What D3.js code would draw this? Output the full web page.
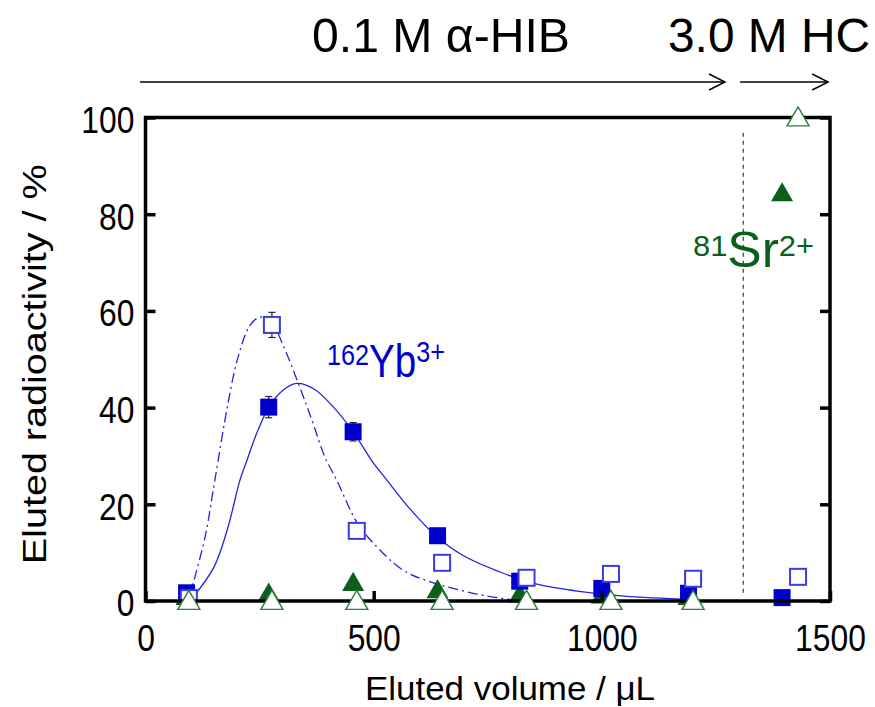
<!DOCTYPE html>
<html>
<head>
<meta charset="utf-8">
<script src="https://cdn.jsdelivr.net/npm/d3@7"></script>
<style>
  body { margin: 0; background: #fff; }
  svg { font-family: "Liberation Sans", Arial, sans-serif; }
</style>
</head>
<body>
<div id="chart"></div>
<script>
// eluted volume (uL) for each fraction
const volFilled = [90, 270, 455, 640, 820, 1000, 1190, 1395];
const volOpen = [95, 277, 463, 650, 835, 1020, 1200, 1430];

// 162Yb3+ eluted radioactivity (%)
const ybFilled = [1.7, 40.1, 35.0, 13.5, 4.1, 2.6, 1.6, 0.7];
const ybFilledErr = [0, 2.2, 1.9, 0, 0, 0, 0, 0];
const ybOpen = [0.6, 57.1, 14.5, 7.9, 4.8, 5.6, 4.6, 5.0];
const ybOpenErr = [0, 2.6, 0, 0, 0, 0, 0, 0];

// 81Sr2+ eluted radioactivity (%)
const srFilled = [0.5, 1.2, 3.4, 1.9, 1.0, 0.8, 0.5, 84.0];
const srOpen = [0, 0, 0, 0, 0, 0, 0, 100];

// fitted curves
const fitSolidVol = [100, 150, 180, 207, 222, 245, 270, 300, 332, 370, 410, 455, 496, 529, 580, 637, 700, 777, 849, 950, 1050, 1200];
const fitSolidVal = [0.3, 7, 15, 25, 29, 35, 40, 43.5, 45, 43.8, 40.3, 35, 29, 25, 19, 13.4, 9.2, 6, 3.7, 2, 1, 0.3];
const fitDashVol = [95, 130, 152, 181, 203, 229, 251, 277, 301, 339, 367, 393, 419, 463, 499, 564, 623, 718, 777, 800];
const fitDashVal = [0.5, 13, 25, 41, 50.5, 57, 58.7, 57.5, 53, 44, 36.8, 29.8, 25, 16.3, 12, 6.4, 4, 1.6, 0.6, 0.3];

const xTicks = [0, 500, 1000, 1500];
const yTicks = [0, 20, 40, 60, 80, 100];
const dividerVol = 1310;
const dividerRange = [1.7, 96.8];
const arrowSpans = [[-12, 1270], [1303, 1496]];

const width = 875, height = 707;
const margin = {top: 117.5, right: 45, bottom: 106, left: 145.5};

const svg = d3.select("#chart").append("svg")
    .attr("width", width)
    .attr("height", height);

const x = d3.scaleLinear().domain([0, 1500]).range([margin.left, width - margin.right]);
const y = d3.scaleLinear().domain([0, 100]).range([height - margin.bottom, margin.top]);

const blue = "#0000cc", blueLine = "#2424dc", blueOpen = "#3b3be6";
const green = "#0b5f1b", greenOpen = "#2f7d38";

// dashed divider between the two eluents
svg.append("line")
    .attr("x1", x(dividerVol)).attr("x2", x(dividerVol))
    .attr("y1", y(dividerRange[0])).attr("y2", y(dividerRange[1]))
    .attr("stroke", "#555").attr("stroke-width", 1.4)
    .attr("stroke-dasharray", "4,4");

// fitted curves
const fitLine = d3.line().curve(d3.curveCatmullRom)
    .x(d => x(d[0])).y(d => y(d[1]));

svg.append("path")
    .datum(fitDashVol.map((v, i) => [v, fitDashVal[i]]))
    .attr("d", fitLine)
    .attr("fill", "none").attr("stroke", blueLine).attr("stroke-width", 1.3)
    .attr("stroke-dasharray", "10,4,2,4");

svg.append("path")
    .datum(fitSolidVol.map((v, i) => [v, fitSolidVal[i]]))
    .attr("d", fitLine)
    .attr("fill", "none").attr("stroke", blueLine).attr("stroke-width", 1.3);

// error bars
function errorBars(vols, vals, errs) {
    const g = svg.append("g").attr("stroke", "#222").attr("stroke-width", 1.2);
    vols.forEach((v, i) => {
        if (!errs[i]) return;
        const cx = x(v), y1 = y(vals[i] + errs[i]), y2 = y(vals[i] - errs[i]);
        g.append("line").attr("x1", cx).attr("x2", cx).attr("y1", y1).attr("y2", y2);
        g.append("line").attr("x1", cx - 3.5).attr("x2", cx + 3.5).attr("y1", y1).attr("y2", y1);
        g.append("line").attr("x1", cx - 3.5).attr("x2", cx + 3.5).attr("y1", y2).attr("y2", y2);
    });
}
errorBars(volFilled, ybFilled, ybFilledErr);
errorBars(volOpen, ybOpen, ybOpenErr);

const tri = d3.symbol().type(d3.symbolTriangle).size(210);

// Sr filled triangles
svg.append("g").selectAll("path")
    .data(volFilled.map((v, i) => [v, srFilled[i]]))
    .join("path")
    .attr("d", tri)
    .attr("transform", d => `translate(${x(d[0])},${y(d[1])})`)
    .attr("fill", green);

// Yb filled squares
const sq = 17;
svg.append("g").selectAll("rect")
    .data(volFilled.map((v, i) => [v, ybFilled[i]]))
    .join("rect")
    .attr("x", d => x(d[0]) - sq / 2).attr("y", d => y(d[1]) - sq / 2)
    .attr("width", sq).attr("height", sq)
    .attr("fill", blue);

// Yb open squares
svg.append("g").selectAll("rect")
    .data(volOpen.map((v, i) => [v, ybOpen[i]]))
    .join("rect")
    .attr("x", d => x(d[0]) - sq / 2 + 0.5).attr("y", d => y(d[1]) - sq / 2 + 0.5)
    .attr("width", sq - 1).attr("height", sq - 1)
    .attr("fill", "#fff").attr("stroke", blueOpen).attr("stroke-width", 2);

// frame
svg.append("rect")
    .attr("x", x(0)).attr("y", y(100))
    .attr("width", x(1500) - x(0)).attr("height", y(0) - y(100))
    .attr("fill", "none").attr("stroke", "#000").attr("stroke-width", 3.5);

// Sr open triangles (drawn over the frame, as in the picture)
svg.append("g").selectAll("path")
    .data(volOpen.map((v, i) => [v, srOpen[i]]))
    .join("path")
    .attr("d", tri)
    .attr("transform", d => `translate(${x(d[0])},${y(d[1]) + 2})`)
    .attr("fill", "#fff").attr("stroke", greenOpen).attr("stroke-width", 1.4);

// axes
const fontSize = 37;
const xAxis = svg.append("g")
    .attr("transform", `translate(0,${y(0)})`)
    .call(d3.axisBottom(x).tickValues(xTicks).tickFormat(d3.format("d"))
        .tickSizeInner(-10).tickSizeOuter(0).tickPadding(24));
const yAxis = svg.append("g")
    .attr("transform", `translate(${x(0)},0)`)
    .call(d3.axisLeft(y).tickValues(yTicks).tickSizeInner(-10).tickSizeOuter(0).tickPadding(13));
const yAxisR = svg.append("g")
    .attr("transform", `translate(${x(1500)},0)`)
    .call(d3.axisRight(y).tickValues(yTicks).tickSizeInner(-10).tickSizeOuter(0).tickFormat(""));

[xAxis, yAxis, yAxisR].forEach(a => {
    a.select(".domain").remove();
    a.selectAll(".tick line").attr("stroke", "#000").attr("stroke-width", 3.5);
    a.selectAll(".tick text").attr("font-size", fontSize).attr("fill", "#000")
        .attr("font-family", "Liberation Sans, Arial, sans-serif")
        .attr("transform", "scale(0.86,1)");
});
yAxis.selectAll(".tick text").attr("dy", "0.4em");

// axis titles
svg.append("text")
    .attr("x", 510).attr("y", 700)
    .attr("text-anchor", "middle").attr("font-size", 34)
    .attr("textLength", 290).attr("lengthAdjust", "spacingAndGlyphs")
    .text("Eluted volume / \u03bcL");

svg.append("text")
    .attr("transform", `translate(46,${(y(0) + y(100)) / 2 + 5}) rotate(-90)`)
    .attr("text-anchor", "middle").attr("font-size", 34)
    .attr("textLength", 400).attr("lengthAdjust", "spacingAndGlyphs")
    .text("Eluted radioactivity / %");

// eluent arrows and labels
arrowSpans.forEach(s => {
    const g = svg.append("g").attr("stroke", "#000").attr("stroke-width", 1.4).attr("fill", "none");
    const ay = 82;
    g.append("line").attr("x1", x(s[0])).attr("x2", x(s[1])).attr("y1", ay).attr("y2", ay);
    g.append("polyline")
        .attr("points", `${x(s[1]) - 16},${ay - 8} ${x(s[1])},${ay} ${x(s[1]) - 16},${ay + 8}`);
});

svg.append("text")
    .attr("x", 312).attr("y", 52)
    .attr("font-size", 48)
    .attr("textLength", 258).attr("lengthAdjust", "spacingAndGlyphs")
    .text("0.1 M \u03b1-HIB");

svg.append("text")
    .attr("x", 668).attr("y", 52)
    .attr("font-size", 48)
    .attr("textLength", 202).attr("lengthAdjust", "spacingAndGlyphs")
    .text("3.0 M HC");

// species labels (slightly condensed, as in the picture)
const ybLabel = svg.append("text")
    .attr("transform", "translate(327,377) scale(0.84,1)")
    .attr("fill", blue).attr("font-size", 46);
ybLabel.append("tspan").attr("font-size", 30).attr("dy", -12).text("162");
ybLabel.append("tspan").attr("dy", 12).text("Yb");
ybLabel.append("tspan").attr("font-size", 30).attr("dy", -15).text("3+");

const srLabel = svg.append("text")
    .attr("transform", "translate(693,267) scale(1.03,1)")
    .attr("fill", green).attr("font-size", 50);
srLabel.append("tspan").attr("font-size", 30).attr("dy", -11).text("81");
srLabel.append("tspan").attr("dy", 11).text("Sr");
srLabel.append("tspan").attr("font-size", 30).attr("dy", -11).text("2+");
</script>
</body>
</html>
